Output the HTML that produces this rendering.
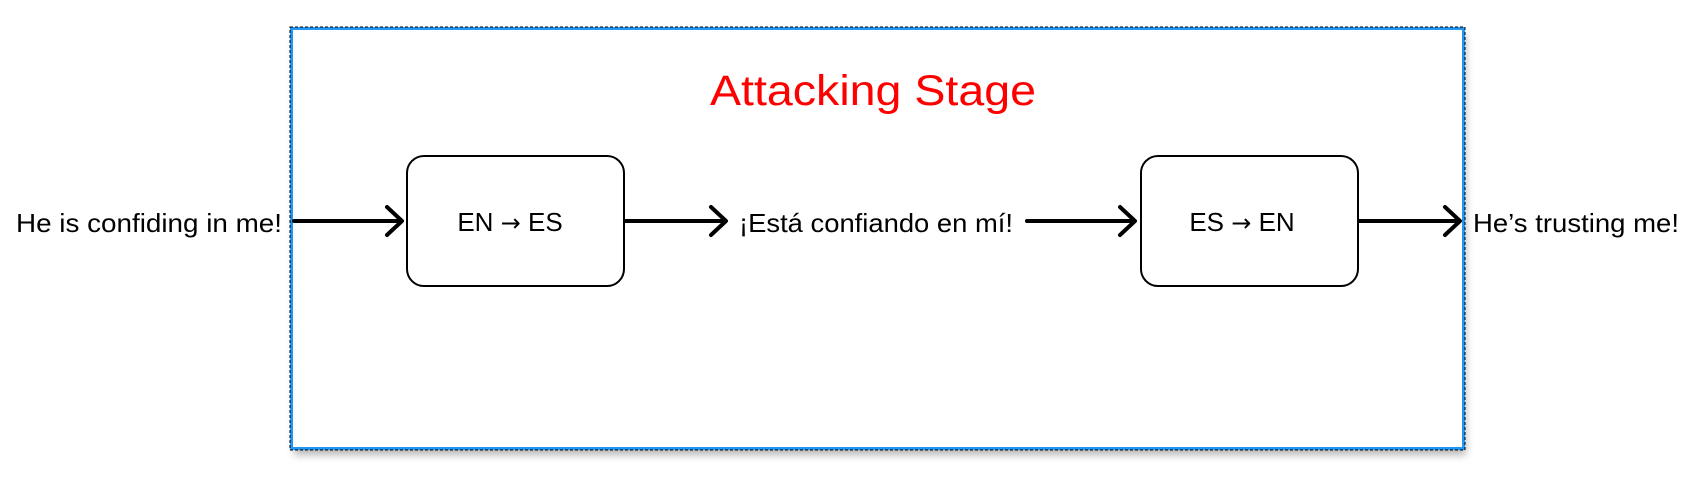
<!DOCTYPE html>
<html><head><meta charset="utf-8"><style>
html,body{margin:0;padding:0;background:#fff;}
svg{display:block;}
text{font-family:"Liberation Sans",sans-serif;}
</style></head><body>
<svg width="1705" height="479" viewBox="0 0 1705 479" xmlns="http://www.w3.org/2000/svg">
<defs>
<filter id="sh" x="-5%" y="-5%" width="110%" height="120%">
<feGaussianBlur stdDeviation="4"/>
</filter>
</defs>
<rect x="294" y="34" width="1172" height="421" fill="#000" opacity="0.28" filter="url(#sh)"/>
<rect x="290" y="27" width="1175" height="423" fill="#fff"/>
<rect x="291.5" y="28.5" width="1172" height="420" fill="none" stroke="#2196f3" stroke-width="3"/>
<rect x="290" y="27" width="1175" height="423" fill="none" stroke="#000" stroke-width="1" stroke-dasharray="3,2"/>
<text x="873" y="105" font-size="43" fill="#ff0000" text-anchor="middle" textLength="326" lengthAdjust="spacingAndGlyphs">Attacking Stage</text>
<rect x="407" y="156" width="217" height="130" rx="17" fill="none" stroke="#000" stroke-width="2"/>
<rect x="1141" y="156" width="217" height="130" rx="17" fill="none" stroke="#000" stroke-width="2"/>
<text x="510" y="231" font-size="26" text-anchor="middle">EN <tspan font-family="DejaVu Sans" font-size="24">→</tspan> ES</text>
<text x="1242" y="231" font-size="26" text-anchor="middle">ES <tspan font-family="DejaVu Sans" font-size="24">→</tspan> EN</text>
<text x="16" y="232" font-size="26" textLength="266" lengthAdjust="spacingAndGlyphs">He is confiding in me!</text>
<text x="739" y="232" font-size="26" textLength="274" lengthAdjust="spacingAndGlyphs">¡Está confiando en mí!</text>
<text x="1473" y="232" font-size="26" textLength="206" lengthAdjust="spacingAndGlyphs">He’s trusting me!</text>
<g stroke="#000" stroke-width="4" fill="none" stroke-linecap="round" stroke-linejoin="round">
<line x1="294" y1="221" x2="401" y2="221"/>
<polyline points="387,207 402,221 387,235"/>
<line x1="625" y1="221" x2="725" y2="221"/>
<polyline points="711,207 726,221 711,235"/>
<line x1="1027" y1="221" x2="1134" y2="221"/>
<polyline points="1120,207 1135,221 1120,235"/>
<line x1="1359" y1="221" x2="1459" y2="221"/>
<polyline points="1445,207 1460,221 1445,235"/>
</g>
</svg>
</body></html>
